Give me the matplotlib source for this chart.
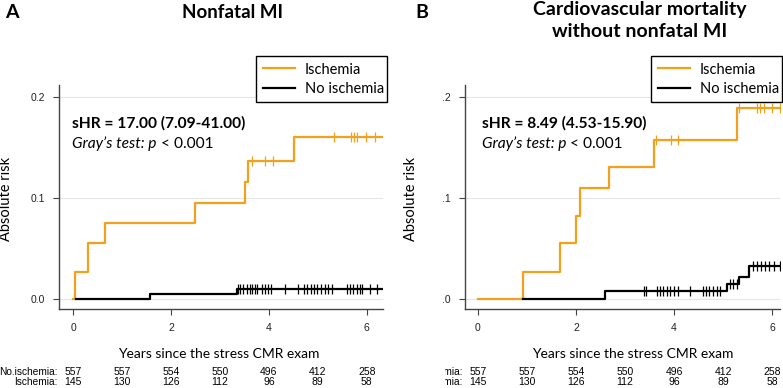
import matplotlib
matplotlib.use("Agg")
import matplotlib.pyplot as plt
from matplotlib.transforms import Bbox

ORANGE = "#F2A11F"

# Panel A - Nonfatal MI
a_isc_t = [0.0, 0.04, 0.31, 0.65, 2.49, 3.51, 3.57, 4.52, 6.30]
a_isc_y = [0.0, 0.027, 0.055, 0.075, 0.095, 0.116, 0.137, 0.160, 0.160]
a_isc_cens = [3.65, 3.92, 4.08, 5.33, 5.67, 5.73, 5.80, 5.99, 6.16]
a_no_t = [0.06, 1.57, 3.34, 6.30]
a_no_y = [0.0, 0.005, 0.010, 0.010]
a_no_cens = [3.37, 3.42, 3.48, 3.56, 3.61, 3.66, 3.71, 3.76, 3.86, 3.92, 3.99,
             4.05, 4.33, 4.60, 4.71, 4.78, 4.85, 4.92, 4.99, 5.06, 5.14, 5.21,
             5.28, 5.59, 5.65, 5.72, 5.79, 5.86, 5.90, 6.06, 6.20]

# Panel B - Cardiovascular mortality without nonfatal MI
b_isc_t = [0.0, 0.92, 1.67, 2.00, 2.08, 2.67, 3.60, 5.28, 6.16]
b_isc_y = [0.0, 0.027, 0.055, 0.082, 0.110, 0.131, 0.158, 0.189, 0.189]
b_isc_cens = [3.64, 3.94, 4.08, 5.33, 5.69, 5.76, 5.84, 5.99, 6.16]
b_no_t = [0.92, 2.59, 5.07, 5.33, 5.52, 6.16]
b_no_y = [0.0, 0.008, 0.0145, 0.022, 0.033, 0.033]
b_no_cens = [3.39, 3.43, 3.65, 3.71, 3.78, 3.85, 3.92, 3.99, 4.07, 4.33, 4.58,
             4.65, 4.72, 4.79, 4.87, 4.94, 5.14, 5.21, 5.28, 5.60, 5.69, 5.77,
             5.86, 5.94, 6.03, 6.15]

risk_times = [0, 1, 2, 3, 4, 5, 6]
risk_no = [557, 557, 554, 550, 496, 412, 258]
risk_isc = [145, 130, 126, 112, 96, 89, 58]

xticks = [0, 2, 4, 6]
yticks = [0.0, 0.1, 0.2]
a_yticklabels = ["0.0", "0.1", "0.2"]
b_yticklabels = [".0", ".1", ".2"]

TXT = "Lato"
NUM = "Liberation Sans"


def step_value(t, ts, ys):
    v = ys[0]
    for ti, yi in zip(ts, ys):
        if ti <= t:
            v = yi
    return v


def panel(ax, isc_t, isc_y, isc_c, no_t, no_y, no_c, ylabels, xlim,
          shr, text_x, label_clip=None):
    ax.set_xlim(*xlim)
    ax.set_ylim(-0.0099, 0.212)
    for y in yticks:
        ax.axhline(y, color="#e6e6e6", lw=0.8, zorder=0)
    ax.step(isc_t, isc_y, where="post", color=ORANGE, lw=1.6, zorder=3)
    ax.step(no_t, no_y, where="post", color="black", lw=1.6, zorder=4)
    ax.plot(isc_c, [step_value(c, isc_t, isc_y) for c in isc_c], ls="none",
            marker="|", ms=7, mew=0.9, color=ORANGE, zorder=3)
    ax.plot(no_c, [step_value(c, no_t, no_y) for c in no_c], ls="none",
            marker="|", ms=7, mew=0.9, color="black", zorder=4)

    for s in ["top", "right"]:
        ax.spines[s].set_visible(False)
    for s in ["left", "bottom"]:
        ax.spines[s].set_color("#444444")
        ax.spines[s].set_linewidth(1.0)
    ax.set_xticks(xticks)
    ax.set_yticks(yticks)
    ax.set_yticklabels(ylabels)
    ax.tick_params(length=4, width=0.8, color="#444444", labelsize=7.5,
                   labelcolor="#222222", pad=6)
    for lab in ax.get_xticklabels() + ax.get_yticklabels():
        lab.set_fontfamily(NUM)

    ax.set_ylabel("Absolute risk", fontsize=10.5, fontfamily=TXT)
    ax.set_xlabel("Years since the stress CMR exam", fontsize=10, fontfamily=TXT)

    ax.text(text_x, 0.174, shr, fontsize=11.2,
            fontweight="bold", fontfamily=TXT, va="center", ha="left")
    t2 = ax.text(text_x, 0.154, "Gray\u2019s test: p", fontsize=11.2,
                 style="italic", fontfamily=TXT, va="center", ha="left")
    ax.annotate(" < 0.001", xy=(1, 0), xycoords=t2, va="bottom", ha="left",
                fontsize=11.2, fontfamily=TXT)

    tr = ax.get_xaxis_transform()
    for t, n1, n2 in zip(risk_times, risk_no, risk_isc):
        ax.text(t, -0.281, str(n1), transform=tr, ha="center", va="center",
                fontsize=7.5, fontfamily=NUM, clip_on=False)
        ax.text(t, -0.326, str(n2), transform=tr, ha="center", va="center",
                fontsize=7.5, fontfamily=NUM, clip_on=False)
    l1 = ax.text(-0.31, -0.281, "No.ischemia:", transform=tr, ha="right",
                 va="center", fontsize=7.3, fontfamily=NUM)
    l2 = ax.text(-0.31, -0.326, "Ischemia:", transform=tr, ha="right",
                 va="center", fontsize=7.3, fontfamily=NUM)
    if label_clip is not None:
        for l in (l1, l2):
            l.set_clip_on(True)
            l.set_clip_box(label_clip)
    else:
        l1.set_clip_on(False)
        l2.set_clip_on(False)


fig = plt.figure(figsize=(7.83, 3.88), dpi=100)
axA = fig.add_axes([59 / 783, 1 - 309 / 388, 324 / 783, 224 / 388])
axB = fig.add_axes([465 / 783, 1 - 309 / 388, 315 / 783, 224 / 388])

panel(axA, a_isc_t, a_isc_y, a_isc_cens, a_no_t, a_no_y, a_no_cens,
      a_yticklabels, (-0.286, 6.33), "sHR = 17.00 (7.09-41.00)", -0.02)
clip = Bbox.from_extents(445, 0, 783, 388)
panel(axB, b_isc_t, b_isc_y, b_isc_cens, b_no_t, b_no_y, b_no_cens,
      b_yticklabels, (-0.265, 6.16), "sHR = 8.49 (4.53-15.90)", 0.08,
      label_clip=clip)

axA.yaxis.set_label_coords(-0.142, 0.49)
axB.yaxis.set_label_coords(-0.149, 0.49)
axA.xaxis.set_label_coords(0.494, -0.174)
axB.xaxis.set_label_coords(0.533, -0.174)

for ax, x0 in [(axA, 256), (axB, 651)]:
    h1, = ax.plot([], [], color=ORANGE, lw=1.6)
    h2, = ax.plot([], [], color="black", lw=1.6)
    leg = fig.legend([h1, h2], ["Ischemia", "No ischemia"], loc="upper left",
                     bbox_to_anchor=(x0 / 783, 1 - 99 / 388, 131 / 783, 43 / 388),
                     mode="expand", borderaxespad=0,
                     fancybox=False, edgecolor="black", framealpha=1,
                     prop={"family": TXT, "size": 10.5}, handlelength=2.2,
                     labelspacing=0.35, borderpad=0.45, handletextpad=0.7)
    leg.get_frame().set_linewidth(1.0)

fig.text(12 / 783, 1 - 12 / 388, "A", fontsize=14, fontweight="bold",
         fontfamily=TXT, ha="center", va="center")
fig.text(233 / 783, 1 - 12 / 388, "Nonfatal MI", fontsize=13.5, fontweight="bold",
         fontfamily=TXT, ha="center", va="center")
fig.text(422 / 783, 1 - 12 / 388, "B", fontsize=14, fontweight="bold",
         fontfamily=TXT, ha="center", va="center")
fig.text(640 / 783, 1 - 1 / 388, "Cardiovascular mortality\nwithout nonfatal MI",
         fontsize=14, fontweight="bold", fontfamily=TXT, ha="center", va="top",
         linespacing=1.35)

fig.savefig("out.png", dpi=100)
